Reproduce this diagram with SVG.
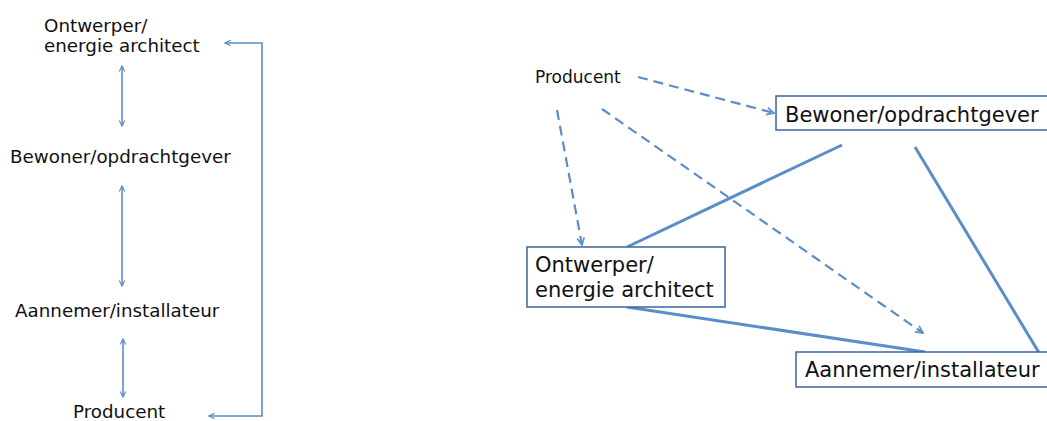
<svg xmlns="http://www.w3.org/2000/svg" width="1047" height="421" viewBox="0 0 1047 421">
  <style>
    text { font-family: "DejaVu Sans", Verdana, sans-serif; fill: #111; }
    .lbl { font-size: 18.3px; }
    .sm { font-size: 17px; }
    .big { font-size: 21px; }
    .box { fill: #fff; stroke: #3B66A0; stroke-width: 1.5; }
    .thin { fill: none; stroke: #5B8DC8; stroke-width: 1.6; }
    .dash { fill: none; stroke: #5B8DC8; stroke-width: 2.2; stroke-dasharray: 10 6; }
    .solid { fill: none; stroke: #5B8DC8; stroke-width: 3; stroke-linecap: butt; }
  </style>
  <defs>
    <marker id="ah" viewBox="0 0 10 10" refX="9" refY="5" markerWidth="7" markerHeight="7" orient="auto-start-reverse" markerUnits="userSpaceOnUse">
      <path d="M1,1 L9,5 L1,9" fill="none" stroke="#5B8DC8" stroke-width="1.6"/>
    </marker>
    <marker id="ahd" viewBox="0 0 10 10" refX="9" refY="5" markerWidth="9" markerHeight="9" orient="auto" markerUnits="userSpaceOnUse">
      <path d="M1,1 L9,5 L1,9" fill="none" stroke="#5B8DC8" stroke-width="1.8"/>
    </marker>
  </defs>

  <!-- connectors -->
  <g id="connectors">
    <!-- left chain -->
    <line class="thin" x1="122" y1="66" x2="122" y2="126" marker-start="url(#ah)" marker-end="url(#ah)"/>
    <line class="thin" x1="122" y1="186" x2="122" y2="286" marker-start="url(#ah)" marker-end="url(#ah)"/>
    <line class="thin" x1="123" y1="339" x2="123" y2="397" marker-start="url(#ah)" marker-end="url(#ah)"/>
    <polyline class="thin" points="225,43 262,43 262,416 209,416" marker-start="url(#ah)" marker-end="url(#ah)"/>

    <!-- right network: dashed -->
    <line class="dash" x1="638" y1="77" x2="774" y2="113" marker-end="url(#ahd)"/>
    <line class="dash" x1="557" y1="110" x2="582" y2="245" marker-end="url(#ahd)"/>
    <line class="dash" x1="602" y1="109" x2="923" y2="333" marker-end="url(#ahd)"/>

    <!-- right network: solid -->
    <line class="solid" x1="627" y1="247" x2="842" y2="145"/>
    <line class="solid" x1="915" y1="147" x2="1047" y2="366"/>
    <line class="solid" x1="627" y1="307" x2="925" y2="352"/>
  </g>

  <!-- left column -->
  <g id="l-ontwerper">
    <text class="lbl" x="44" y="32">Ontwerper/</text>
    <text class="lbl" x="44" y="52">energie architect</text>
  </g>
  <g id="l-bewoner">
    <text class="lbl" x="10" y="163">Bewoner/opdrachtgever</text>
  </g>
  <g id="l-aannemer">
    <text class="lbl" x="15" y="317">Aannemer/installateur</text>
  </g>
  <g id="l-producent">
    <text class="lbl" x="73" y="418">Producent</text>
  </g>

  <!-- right network nodes -->
  <g id="r-producent">
    <text class="sm" x="535" y="83">Producent</text>
  </g>
  <g id="r-bewoner">
    <rect class="box" x="776" y="96" width="280" height="34"/>
    <text class="big" x="785" y="122">Bewoner/opdrachtgever</text>
  </g>
  <g id="r-ontwerper">
    <rect class="box" x="527" y="247" width="198" height="60"/>
    <text class="big" x="535" y="272">Ontwerper/</text>
    <text class="big" x="535" y="297">energie architect</text>
  </g>
  <g id="r-aannemer">
    <rect class="box" x="796" y="352" width="260" height="35"/>
    <text class="big" x="805" y="377">Aannemer/installateur</text>
  </g>
</svg>
